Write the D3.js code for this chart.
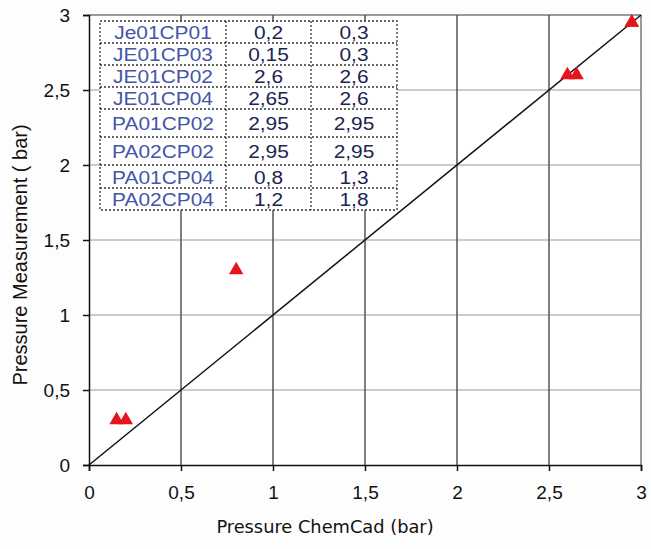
<!DOCTYPE html>
<html>
<head>
<meta charset="utf-8" />
<title>Pressure</title>
<script src="https://d3js.org/d3.v7.min.js"></script>
<style>
  body { margin: 0; background: #fdfdfd; }
</style>
</head>
<body>
<div id="chart"></div>
<script>
// data
var names = ["Je01CP01", "JE01CP03", "JE01CP02", "JE01CP04", "PA01CP02", "PA02CP02", "PA01CP04", "PA02CP04"];
var chemcad = [0.2, 0.15, 2.6, 2.65, 2.95, 2.95, 0.8, 1.2];
var measured = [0.3, 0.3, 2.6, 2.6, 2.95, 2.95, 1.3, 1.8];
var ticks = [0, 0.5, 1, 1.5, 2, 2.5, 3];

var width = 651, height = 549;
var margin = {left: 89, right: 10, top: 15, bottom: 84};
var arial = "Arial, 'Liberation Sans', sans-serif";

var svg = d3.select("#chart").append("svg").attr("width", width).attr("height", height);

var x = d3.scaleLinear().domain([0, 3]).range([margin.left, width - margin.right]);
var y = d3.scaleLinear().domain([0, 3]).range([height - margin.bottom, margin.top]);
var fmt = function(d) { return String(d).replace(".", ","); };

svg.append("rect").attr("x", x(0)).attr("y", y(3)).attr("width", x(3) - x(0)).attr("height", y(0) - y(3)).attr("fill", "#fff");

// grid
svg.selectAll(".hgrid").data(ticks.slice(1)).enter().append("line")
  .attr("x1", x(0)).attr("x2", x(3)).attr("y1", d => y(d)).attr("y2", d => y(d))
  .attr("stroke", d => d == 3 ? "#777" : "#bbb").attr("stroke-width", 1.5);
svg.selectAll(".vgrid").data(ticks.slice(1)).enter().append("line")
  .attr("y1", y(0)).attr("y2", y(3)).attr("x1", d => x(d)).attr("x2", d => x(d))
  .attr("stroke", d => d == 3 ? "#777" : "#555").attr("stroke-width", 1.5);

// axes
var xAxis = svg.append("g").attr("transform", "translate(0," + y(0) + ")")
  .call(d3.axisBottom(x).tickValues(ticks).tickFormat(fmt).tickSize(6).tickPadding(15));
var yAxis = svg.append("g").attr("transform", "translate(" + x(0) + ",0)")
  .call(d3.axisLeft(y).tickValues(ticks).tickFormat(fmt).tickSize(6).tickPadding(13));
[xAxis, yAxis].forEach(function(a) {
  a.select(".domain").attr("stroke", "#111").attr("stroke-width", 1.5);
  a.selectAll(".tick line").attr("stroke", "#111").attr("stroke-width", 1.5);
  a.selectAll("text").attr("font-family", arial).attr("font-size", 19).attr("fill", "#111");
});

// diagonal
svg.append("line").attr("x1", x(0)).attr("y1", y(0)).attr("x2", x(3)).attr("y2", y(3))
  .attr("stroke", "#111").attr("stroke-width", 1.5);

// points
svg.selectAll(".pt").data(chemcad).enter().append("path")
  .attr("d", d3.symbol().type(d3.symbolTriangle).size(90))
  .attr("transform", (d, i) => "translate(" + x(d) + "," + y(measured[i]) + ")")
  .attr("fill", "#e8141c");

// table
var colX = [100, 226, 311, 397];
var rowY = [21, 43, 65, 87, 109, 137, 165, 188, 210];
var tbl = svg.append("g");
tbl.append("rect").attr("x", colX[0]).attr("y", rowY[0]).attr("width", colX[3] - colX[0]).attr("height", rowY[8] - rowY[0])
  .attr("fill", "#fff").attr("stroke", "#333").attr("stroke-dasharray", "2,2").attr("stroke-width", 1.3);
rowY.slice(1, 8).forEach(function(ry) {
  tbl.append("line").attr("x1", colX[0]).attr("x2", colX[3]).attr("y1", ry).attr("y2", ry)
    .attr("stroke", "#333").attr("stroke-dasharray", "2,2").attr("stroke-width", 1.3);
});
[1, 2].forEach(function(c) {
  tbl.append("line").attr("x1", colX[c]).attr("x2", colX[c]).attr("y1", rowY[0]).attr("y2", rowY[8])
    .attr("stroke", "#333").attr("stroke-dasharray", "2,2").attr("stroke-width", 1.3);
});
names.forEach(function(n, i) {
  var cy = (rowY[i] + rowY[i + 1]) / 2 + 7;
  var cols = [n, fmt(chemcad[i]), fmt(measured[i])];
  cols.forEach(function(t, c) {
    tbl.append("text").attr("transform", "translate(" + ((colX[c] + colX[c + 1]) / 2) + "," + cy + ") scale(1.1,1)")
      .attr("text-anchor", "middle").attr("font-family", arial).attr("font-size", 19)
      .attr("fill", c == 0 ? "#4356a8" : "#1c2450").text(t);
  });
});

// axis titles
svg.append("text").attr("transform", "translate(325,533) scale(1.1,1)").attr("text-anchor", "middle")
  .attr("font-family", "'DejaVu Sans Condensed', 'DejaVu Sans', sans-serif").attr("font-size", 18).attr("fill", "#111")
  .text("Pressure ChemCad (bar)");
svg.append("text").attr("transform", "translate(27,255) rotate(-90)").attr("text-anchor", "middle")
  .attr("font-family", arial).attr("font-size", 20).attr("fill", "#111")
  .text("Pressure Measurement ( bar)");
</script>
</body>
</html>
